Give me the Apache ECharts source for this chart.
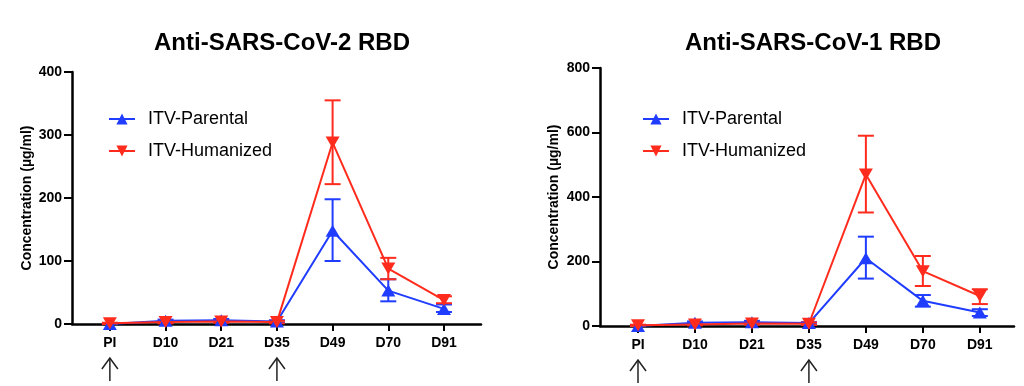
<!DOCTYPE html>
<html>
<head>
<meta charset="utf-8">
<script src="https://cdn.jsdelivr.net/npm/echarts@6/dist/echarts.min.js"></script>
<style>
html,body{margin:0;padding:0;background:#fff;}
#chart{width:1024px;height:386px;}
</style>
</head>
<body>
<div id="chart"></div>
<script>
// ---- data ----
const categories = ['PI', 'D10', 'D21', 'D35', 'D49', 'D70', 'D91'];
const immunizationDays = ['PI', 'D35'];
const titles = ['Anti-SARS-CoV-2 RBD', 'Anti-SARS-CoV-1 RBD'];
const seriesNames = ['ITV-Parental', 'ITV-Humanized'];

// Chart A: Anti-SARS-CoV-2 RBD
const parentalA = [0, 5, 6, 4, 148, 53, 24];
const parentalA_low = [0, 3, 4, 2, 100, 36, 19];
const parentalA_high = [0, 7, 8, 6, 198, 71, 31];
const humanizedA = [1, 3, 4, 3, 288, 88, 38];
const humanizedA_low = [0, 1, 2, 1, 222, 71, 33];
const humanizedA_high = [2, 5, 6, 5, 355, 105, 44];

// Chart B: Anti-SARS-CoV-1 RBD
const parentalB = [0, 10, 12, 9, 210, 78, 42];
const parentalB_low = [0, 6, 8, 6, 147, 60, 31];
const parentalB_high = [0, 14, 16, 12, 277, 96, 52];
const humanizedB = [2, 5, 8, 7, 470, 170, 93];
const humanizedB_low = [0, 2, 4, 3, 352, 124, 68];
const humanizedB_high = [4, 8, 12, 11, 590, 217, 114];

const yTicksA = [0, 100, 200, 300, 400];
const yTicksB = [0, 200, 400, 600, 800];

// ---- styling ----
const BLUE = '#1f3cff';
const RED = '#ff2b1c';
const FONT = '"Liberation Sans", Arial, sans-serif';
const idx = categories.map((c, i) => i);

function pairs(vals) { return vals.map((v, i) => [i, v]); }
function errData(low, high) { return low.map((l, i) => [i, l, high[i]]); }

function errSeries(low, high, color, axis) {
  return {
    type: 'custom', xAxisIndex: axis, yAxisIndex: axis,
    z: 2, silent: true, color: color,
    data: errData(low, high),
    renderItem: function (params, api) {
      const x = api.value(0);
      const lo = api.coord([x, api.value(1)]);
      const hi = api.coord([x, api.value(2)]);
      const w = 8;
      const st = { stroke: color, lineWidth: 2 };
      return {
        type: 'group', children: [
          { type: 'line', shape: { x1: lo[0], y1: lo[1], x2: hi[0], y2: hi[1] }, style: st },
          { type: 'line', shape: { x1: lo[0] - w, y1: lo[1], x2: lo[0] + w, y2: lo[1] }, style: st },
          { type: 'line', shape: { x1: hi[0] - w, y1: hi[1], x2: hi[0] + w, y2: hi[1] }, style: st }
        ]
      };
    }
  };
}

function lineSeries(name, vals, color, axis, down) {
  return {
    type: 'line', name: name, xAxisIndex: axis, yAxisIndex: axis,
    data: pairs(vals), z: 3, color: color,
    symbol: 'triangle', symbolSize: [14, 12], symbolRotate: down ? 180 : 0,
    lineStyle: { color: color, width: 2 },
    itemStyle: { color: color },
    emphasis: { disabled: true },
    animation: false
  };
}

function arrowSeries(axis) {
  return {
    type: 'custom', xAxisIndex: axis, yAxisIndex: axis, silent: true, clip: false,
    data: immunizationDays.map(d => [categories.indexOf(d), 0]),
    renderItem: function (params, api) {
      const p = api.coord([api.value(0), 0]);
      const top = p[1] + 34, bot = p[1] + 57;
      const st = { stroke: '#222', lineWidth: 1.5, fill: null };
      return {
        type: 'group', children: [
          { type: 'line', shape: { x1: p[0], y1: top, x2: p[0], y2: bot }, style: st },
          { type: 'polyline', shape: { points: [[p[0] - 8, top + 11], [p[0], top], [p[0] + 8, top + 11]] }, style: st }
        ]
      };
    }
  };
}

function xAxis(grid, min, max) {
  return {
    type: 'value', gridIndex: grid, min: min, max: max,
    splitLine: { show: false },
    axisLine: { show: true, onZero: false, lineStyle: { color: '#000', width: 2.5 } },
    axisTick: { show: true, customValues: idx, length: 7, lineStyle: { color: '#000', width: 2 } },
    axisLabel: {
      customValues: idx, margin: 12,
      formatter: v => categories[Math.round(v)],
      fontFamily: FONT, fontWeight: 'bold', fontSize: 14, color: '#000'
    }
  };
}

function yAxis(grid, ticks, gap) {
  return {
    type: 'value', gridIndex: grid, min: ticks[0], max: ticks[ticks.length - 1],
    interval: ticks[1] - ticks[0],
    name: 'Concentration (µg/ml)', nameLocation: 'middle', nameGap: gap,
    nameTextStyle: { fontFamily: FONT, fontWeight: 'bold', fontSize: 14, color: '#000' },
    splitLine: { show: false },
    axisLine: { show: true, onZero: false, lineStyle: { color: '#000', width: 2.5 } },
    axisTick: { show: true, length: 8, lineStyle: { color: '#000', width: 2 } },
    axisLabel: { margin: 10, fontFamily: FONT, fontWeight: 'bold', fontSize: 14, color: '#000' }
  };
}

function legend(left, top) {
  return {
    left: left, top: top, orient: 'vertical', itemWidth: 26, itemHeight: 14, itemGap: 14,
    selectedMode: false, padding: 0,
    data: seriesNames,
    textStyle: { fontFamily: FONT, fontSize: 18, color: '#000', padding: [0, 0, 0, 8] }
  };
}

const chart = echarts.init(document.getElementById('chart'), null, { renderer: 'canvas' });
chart.setOption({
  animation: false,
  backgroundColor: '#fff',
  title: [
    { text: titles[0], left: 277, top: 26, textAlign: 'center',
      textStyle: { fontFamily: FONT, fontWeight: 'bold', fontSize: 24, color: '#000' } },
    { text: titles[1], left: 808, top: 26, textAlign: 'center',
      textStyle: { fontFamily: FONT, fontWeight: 'bold', fontSize: 24, color: '#000' } }
  ],
  legend: [legend(108, 110), legend(642, 110)],
  grid: [
    { left: 72, top: 72, width: 409, height: 252, containLabel: false },
    { left: 600, top: 68, width: 414, height: 258, containLabel: false }
  ],
  xAxis: [xAxis(0, -0.68, 6.665), xAxis(1, -0.667, 6.6)],
  yAxis: [yAxis(0, yTicksA, 38), yAxis(1, yTicksB, 39)],
  series: [
    lineSeries(seriesNames[0], parentalA, BLUE, 0, false),
    lineSeries(seriesNames[1], humanizedA, RED, 0, true),
    lineSeries(seriesNames[0], parentalB, BLUE, 1, false),
    lineSeries(seriesNames[1], humanizedB, RED, 1, true),
    errSeries(parentalA_low, parentalA_high, BLUE, 0),
    errSeries(humanizedA_low, humanizedA_high, RED, 0),
    errSeries(parentalB_low, parentalB_high, BLUE, 1),
    errSeries(humanizedB_low, humanizedB_high, RED, 1),
    arrowSeries(0),
    arrowSeries(1)
  ]
});
</script>
</body>
</html>
